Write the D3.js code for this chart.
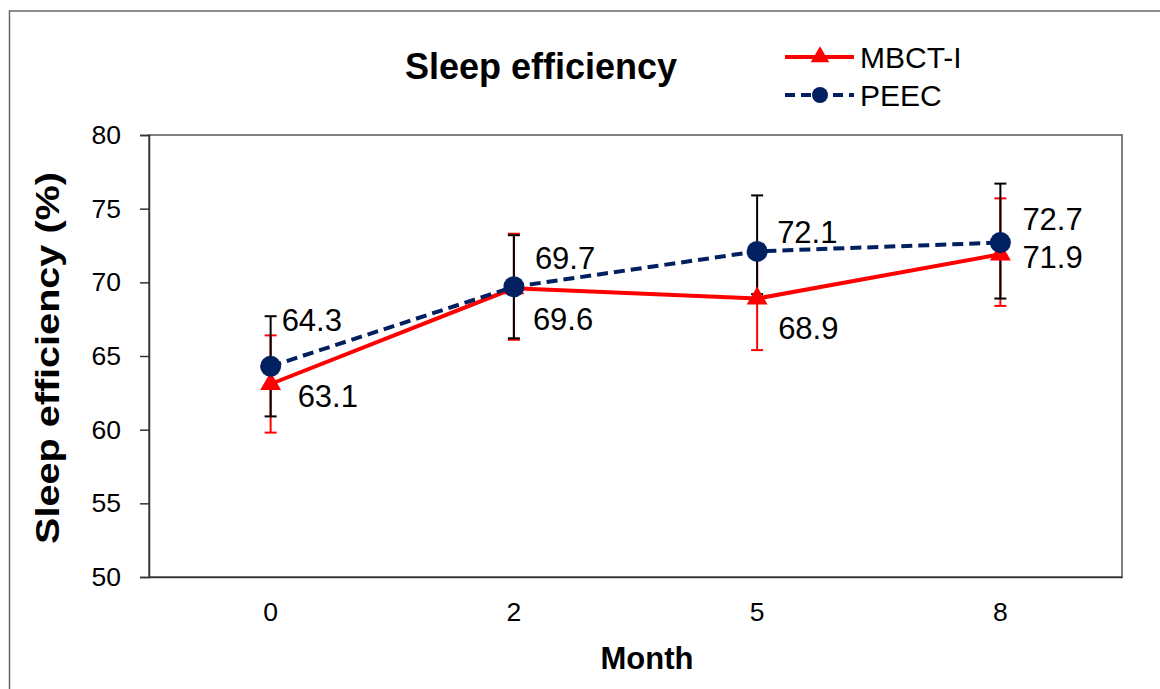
<!DOCTYPE html>
<html>
<head>
<meta charset="utf-8">
<script src="https://cdn.jsdelivr.net/npm/d3@7"></script>
<style>
  html, body { margin: 0; padding: 0; background: #fff; }
  svg text { font-family: "Liberation Sans", Arial, sans-serif; fill: #000; }
</style>
</head>
<body>
<svg id="chart" width="1160" height="689"></svg>
<script>
// ---- data ----
const months = ["0", "2", "5", "8"];
const mbct = [63.1, 69.6, 68.9, 71.9];
const peec = [64.3, 69.7, 72.1, 72.7];
const mbctErrPlus  = [3.3, 3.7, 3.5, 3.8];
const mbctErrMinus = [3.3, 3.5, 3.5, 3.5];
const peecErrPlus  = [3.4, 3.5, 3.8, 4.0];
const peecErrMinus = [3.4, 3.5, 2.9, 3.8];
const yTicks = [50, 55, 60, 65, 70, 75, 80];
const seriesNames = ["MBCT-I", "PEEC"];

// label placement (dx, dy from point to text's left / middle)
const mbctLabelOffset = [[27, 12], [19, 31], [21, 29], [22, 2]];
const peecLabelOffset = [[11, -46], [21, -29], [20, -20], [22, -24]];

const svg = d3.select("#chart");
const W = 1160, H = 689;
const pLeft = 149, pRight = 1122, pTop = 135, pBottom = 577;

// outer frame
svg.append("rect").attr("x", 9.5).attr("y", 11).attr("width", W + 10).attr("height", H + 10)
  .attr("fill", "#fff").attr("stroke", "#666").attr("stroke-width", 1.5);

const x = d3.scaleBand().domain(months).range([pLeft, pRight]).padding(0);
const y = d3.scaleLinear().domain([50, 80]).range([pBottom, pTop]);
const cx = m => x(m) + x.bandwidth() / 2;

// plot area box
svg.append("rect").attr("x", pLeft).attr("y", pTop).attr("width", pRight - pLeft).attr("height", pBottom - pTop)
  .attr("fill", "none").attr("stroke", "#555").attr("stroke-width", 1.5);

// y axis
const yAxis = d3.axisLeft(y).tickValues(yTicks).tickSize(9).tickPadding(19);
const gy = svg.append("g").attr("transform", `translate(${pLeft},0)`).call(yAxis);
gy.select(".domain").attr("stroke", "#333").attr("stroke-width", 1.5);
gy.selectAll(".tick line").attr("stroke", "#333").attr("stroke-width", 1.5);
gy.selectAll(".tick text").attr("font-size", 26.5).attr("font-family", "Liberation Sans, Arial, sans-serif").attr("fill", "#000");

// x axis
const xAxis = d3.axisBottom(x).tickSize(0).tickPadding(25);
const gx = svg.append("g").attr("transform", `translate(0,${pBottom})`).call(xAxis);
gx.select(".domain").attr("stroke", "#333").attr("stroke-width", 1.5);
gx.selectAll(".tick text").attr("font-size", 26.5).attr("font-family", "Liberation Sans, Arial, sans-serif").attr("fill", "#000");

// error bars
function errBars(vals, plus, minus, color) {
  const g = svg.append("g");
  vals.forEach((v, i) => {
    const xc = cx(months[i]);
    const y1 = y(v + plus[i]), y2 = y(v - minus[i]);
    g.append("line").attr("x1", xc).attr("x2", xc).attr("y1", y1).attr("y2", y2)
      .attr("stroke", color).attr("stroke-width", 2);
    [y1, y2].forEach(yy => g.append("line").attr("x1", xc - 6).attr("x2", xc + 6)
      .attr("y1", yy).attr("y2", yy).attr("stroke", color).attr("stroke-width", 2));
  });
}
errBars(mbct, mbctErrPlus, mbctErrMinus, "#ff0000");
errBars(peec, peecErrPlus, peecErrMinus, "#000000");

const line = d3.line().x((d, i) => cx(months[i])).y(d => y(d));
svg.append("path").datum(mbct).attr("d", line).attr("fill", "none")
  .attr("stroke", "#ff0000").attr("stroke-width", 4);
svg.append("path").datum(peec).attr("d", line).attr("fill", "none")
  .attr("stroke", "#002060").attr("stroke-width", 4).attr("stroke-dasharray", "11,6");

// markers
const tri = d3.symbol().type(d3.symbolTriangle).size(190);
svg.append("g").selectAll("path").data(mbct).join("path")
  .attr("d", tri)
  .attr("transform", (d, i) => `translate(${cx(months[i])},${y(d)})`)
  .attr("fill", "#ff0000");
svg.append("g").selectAll("circle").data(peec).join("circle")
  .attr("cx", (d, i) => cx(months[i])).attr("cy", d => y(d)).attr("r", 10.5)
  .attr("fill", "#002060");

// data labels
function labels(vals, offs) {
  svg.append("g").selectAll("text").data(vals).join("text")
    .attr("x", (d, i) => cx(months[i]) + offs[i][0])
    .attr("y", (d, i) => y(d) + offs[i][1])
    .attr("dy", "0.36em")
    .attr("font-size", 31)
    .text(d => d.toFixed(1));
}
labels(mbct, mbctLabelOffset);
labels(peec, peecLabelOffset);

// title
svg.append("text").attr("x", 541).attr("y", 66).attr("dy", "0.36em").attr("text-anchor", "middle")
  .attr("font-size", 36).attr("font-weight", "bold").text("Sleep efficiency");

// axis titles
svg.append("text").attr("x", 647).attr("y", 658).attr("dy", "0.36em").attr("text-anchor", "middle")
  .attr("font-size", 31).attr("font-weight", "bold").text("Month");
svg.append("text").attr("transform", "translate(47,358) rotate(-90)").attr("dy", "0.36em")
  .attr("text-anchor", "middle").attr("font-size", 33).attr("font-weight", "bold")
  .attr("textLength", 372).attr("lengthAdjust", "spacingAndGlyphs")
  .text("Sleep efficiency (%)");

// legend
const lg = svg.append("g");
const legendY = [57, 95];
lg.append("line").attr("x1", 785).attr("x2", 854).attr("y1", legendY[0]).attr("y2", legendY[0])
  .attr("stroke", "#ff0000").attr("stroke-width", 4);
lg.append("path").attr("d", d3.symbol().type(d3.symbolTriangle).size(150))
  .attr("transform", `translate(820,${legendY[0]})`).attr("fill", "#ff0000");
lg.append("line").attr("x1", 785).attr("x2", 854).attr("y1", legendY[1]).attr("y2", legendY[1])
  .attr("stroke", "#002060").attr("stroke-width", 4).attr("stroke-dasharray", "10,6");
lg.append("circle").attr("cx", 820).attr("cy", legendY[1]).attr("r", 8).attr("fill", "#002060");
seriesNames.forEach((n, i) => lg.append("text").attr("x", 860).attr("y", legendY[i]).attr("dy", "0.36em")
  .attr("font-size", 30).text(n));
</script>
</body>
</html>
